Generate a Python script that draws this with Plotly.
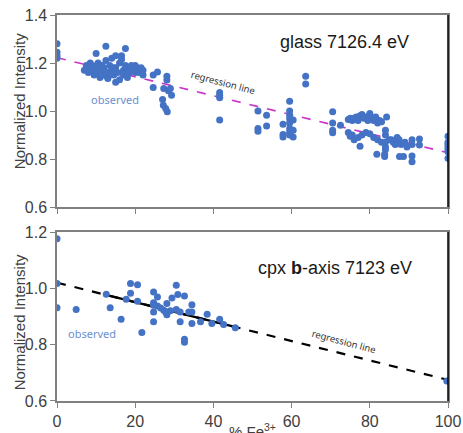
import plotly.graph_objects as go
from plotly.subplots import make_subplots

# ---------------- data: glass 7126.4 eV ----------------
glass_fe3 = [0, 0, 0, 0,
             7, 7.5, 8, 8, 8.5, 9, 9, 9.5, 10, 10, 10.2, 10.5, 11, 11, 11.5, 12, 12, 12.5, 12.5, 13,
             13, 13.5, 14, 14, 14.5, 15, 15, 15.5, 16, 16, 16.5, 17, 17, 17.5, 17.5, 18, 18, 18.5,
             19, 19, 19.5, 20, 20.5, 21, 21.5, 22, 22, 16.5, 15, 13, 9.5, 11.5, 14.5, 18.5, 20,
             24.6, 24.6, 25.7, 28.1, 28.1, 27.3, 28.5, 29.3, 29, 27, 27.2, 27.8, 28.2,
             41.6, 41.6, 41.6, 41.6,
             51.4, 51.4, 51.4, 53.6, 53.6,
             57.8, 57.8, 57.8, 59.5, 59.5, 59.5, 59.5, 59.5, 59.5, 59.5, 59.5, 60.4, 60.4, 60.4,
             63.6, 63.6,
             70.5, 70.5, 70.5, 70.5, 72.5,
             74.5, 75, 75.5, 76, 76.5, 77, 77.5, 78, 78.5, 79, 79.5, 80, 80.5, 81, 81.5, 82, 82.5, 83, 84.3,
             74.5, 75, 75.5, 76, 77, 78, 79, 80, 81, 82, 83, 84, 85,
             77.5, 81.8, 83.8, 83.8, 84, 84, 84, 84,
             85.5, 86, 86.5, 87, 87.5, 88, 89, 89.5, 87.6, 88.6,
             90.8, 90.8, 90.8, 90.8, 92.7, 92.7,
             100, 100, 100, 100, 100, 100, 100]
glass_int = [1.28, 1.245, 1.23, 1.22,
             1.17, 1.19, 1.16, 1.18, 1.20, 1.17, 1.19, 1.15, 1.24, 1.18, 1.16, 1.20, 1.17, 1.14, 1.19, 1.15, 1.18, 1.27, 1.21, 1.16,
             1.14, 1.19, 1.17, 1.22, 1.15, 1.12, 1.18, 1.16, 1.20, 1.13, 1.23, 1.17, 1.15, 1.26, 1.19, 1.18, 1.14, 1.16,
             1.19, 1.17, 1.18, 1.19, 1.18, 1.16, 1.18, 1.17, 1.15, 1.215, 1.23, 1.135, 1.18, 1.17, 1.18, 1.17, 1.16,
             1.098, 1.15, 1.163, 1.145, 1.129, 1.094, 1.084, 1.066, 1.094, 1.048, 1.024, 1.01, 0.997,
             1.077, 1.066, 1.055, 0.962,
             1.0, 0.927, 0.916, 0.982, 0.937,
             0.945, 0.902, 0.892, 1.041, 1.0, 0.982, 0.968, 0.95, 0.927, 0.913, 0.9, 0.962, 0.92, 0.892,
             1.145, 1.112,
             0.997, 0.95, 0.92, 0.909, 0.941,
             0.965, 0.97, 0.96, 0.97, 0.975, 0.96, 0.98, 0.985, 0.97, 0.975, 0.96, 0.99, 0.97, 0.96, 0.975, 0.95, 0.96, 0.955, 0.975,
             0.91, 0.895, 0.90, 0.88, 0.89, 0.90, 0.91, 0.905, 0.89, 0.88, 0.87, 0.90, 0.88,
             0.853, 0.82, 0.81, 0.82, 0.85, 0.92, 0.87, 0.84,
             0.88, 0.87, 0.86, 0.89, 0.88, 0.86, 0.87, 0.85, 0.81, 0.81,
             0.88, 0.86, 0.812, 0.789, 0.883, 0.858,
             0.895, 0.87, 0.86, 0.85, 0.84, 0.83, 0.803]
glass_fit_x = [0, 100]
glass_fit_y = [1.222, 0.826]

# ---------------- data: cpx b-axis 7123 eV ----------------
cpx_fe3 = [0, 0, 0, 4.9, 12.6, 13.6, 16.4, 17.7, 18.8, 18.8, 20.6, 20.6, 21.7,
           24.7, 24.7, 24.7, 24.7, 24.7, 25.7, 25.7, 27.3, 28.1, 28.1, 28.1, 29.4,
           30.5, 30.5, 30.9, 31.5, 31.5, 32.6, 32.6, 32.6, 33.7, 34.5, 34.5, 34.5,
           36.7, 38.4, 39.6, 41.6, 42.6, 45.6, 99.7, 26.5, 29.0, 27.8]
cpx_int = [1.176, 1.017, 0.931, 0.925, 0.979, 0.931, 0.89, 0.961, 1.017, 0.983, 1.013, 0.954, 0.843,
           0.987, 0.949, 0.94, 0.916, 0.881, 0.969, 0.937, 0.922, 0.946, 0.916, 0.906, 0.966,
           1.011, 0.925, 0.978, 0.916, 0.881, 0.973, 0.819, 0.809, 0.916, 0.942, 0.916, 0.875,
           0.881, 0.908, 0.875, 0.89, 0.872, 0.86, 0.671, 0.93, 0.92, 0.915]
cpx_fit_x = [0, 100]
cpx_fit_y = [1.02, 0.675]
cpx_fit_solid_x = [12.5, 46]

xticks = [0, 20, 40, 60, 80, 100]
glass_yticks = [0.6, 0.8, 1.0, 1.2, 1.4]
cpx_yticks = [0.6, 0.8, 1.0, 1.2]

def line_at(xs, xf, yf):
    slope = (yf[1] - yf[0]) / (xf[1] - xf[0])
    return [yf[0] + slope * (x - xf[0]) for x in xs]

BLUE = "#4472C4"
AXC = "#808080"
FONT = "Liberation Sans, Arial, sans-serif"

fig = make_subplots(rows=2, cols=1, vertical_spacing=0.065)
fig.update_layout(
    width=463, height=433,
    margin=dict(l=57, r=15, t=15, b=32),
    paper_bgcolor="white", plot_bgcolor="white",
    showlegend=False, hovermode=False,
    font=dict(family=FONT, size=16, color="#404040"),
    xaxis=dict(domain=[0, 1]), xaxis2=dict(domain=[0, 1]),
    yaxis=dict(domain=[0.5026, 1.0]), yaxis2=dict(domain=[0.0, 0.4378]),
)

# glass panel
fig.add_trace(go.Scatter(x=glass_fit_x, y=glass_fit_y, mode="lines",
                         line=dict(color="#CC33CC", width=1.6, dash="dash"),
                         hoverinfo="skip"), row=1, col=1)
fig.add_trace(go.Scatter(x=glass_fe3, y=glass_int, mode="markers",
                         marker=dict(color=BLUE, size=7)), row=1, col=1)

# cpx panel
fig.add_trace(go.Scatter(x=cpx_fit_x, y=cpx_fit_y, mode="lines",
                         line=dict(color="black", width=2.2, dash="dash"),
                         hoverinfo="skip"), row=2, col=1)
fig.add_trace(go.Scatter(x=cpx_fit_solid_x, y=line_at(cpx_fit_solid_x, cpx_fit_x, cpx_fit_y),
                         mode="lines", line=dict(color="black", width=2.2),
                         hoverinfo="skip"), row=2, col=1)
fig.add_trace(go.Scatter(x=cpx_fe3, y=cpx_int, mode="markers",
                         marker=dict(color=BLUE, size=7)), row=2, col=1)

axis_common = dict(showgrid=False, zeroline=False, showline=True, linecolor=AXC,
                   linewidth=1.5, mirror=True, ticks="outside", ticklen=5,
                   tickcolor=AXC, tickfont=dict(size=16, color="#404040"),
                   automargin=False, ticklabeloverflow="allow")

fig.update_xaxes(range=[0, 100], tickvals=xticks, **axis_common)
fig.update_xaxes(showticklabels=False, row=1, col=1)
fig.update_xaxes(ticktext=[str(v) for v in xticks], row=2, col=1)

fig.update_yaxes(range=[0.6, 1.4], tickvals=glass_yticks,
                 ticktext=[f"{v:.1f}" for v in glass_yticks], row=1, col=1, **axis_common)
fig.update_yaxes(range=[0.6, 1.2], tickvals=cpx_yticks,
                 ticktext=[f"{v:.1f}" for v in cpx_yticks], row=2, col=1, **axis_common)

# right border in black
for ax in ["x", "x2"]:
    yr = "y" if ax == "x" else "y2"
    fig.add_shape(type="line", xref=f"{ax} domain", yref=f"{yr} domain",
                  x0=1, x1=1, y0=0, y1=1, line=dict(color="black", width=1.5))

title_font = dict(size=15, color="#404040")
anns = [
    dict(x=-0.097, y=0.777, xref="paper", yref="paper", text="Normalized Intensity",
         textangle=-90, xanchor="center", yanchor="middle", font=title_font),
    dict(x=-0.097, y=0.204, xref="paper", yref="paper", text="Normalized Intensity",
         textangle=-90, xanchor="center", yanchor="middle", font=title_font),
    dict(x=73.6, y=1.2875, xref="x", yref="y", text="glass 7126.4 eV",
         font=dict(size=18, color="#1a1a1a")),
    dict(x=71.2, y=1.072, xref="x2", yref="y2", text="cpx <b>b</b>-axis 7123 eV",
         font=dict(size=18, color="#1a1a1a")),
    dict(x=42.4, y=1.117, xref="x", yref="y", text="regression line", textangle=15,
         font=dict(size=9.5, color="#333333", family="Noto Sans, sans-serif")),
    dict(x=73.3, y=0.812, xref="x2", yref="y2", text="regression line", textangle=15,
         font=dict(size=9.5, color="#333333", family="Noto Sans, sans-serif")),
    dict(x=14.9, y=1.046, xref="x", yref="y", text="observed",
         font=dict(size=11, color="#6A8FD0", family="Noto Sans, sans-serif")),
    dict(x=9.05, y=0.841, xref="x2", yref="y2", text="observed",
         font=dict(size=11, color="#6A8FD0", family="Noto Sans, sans-serif")),
    dict(x=0.5, y=-0.046, xref="paper", yref="paper", text="% Fe<sup>3+</sup>",
         xanchor="center", yanchor="top", font=title_font),
]
for a in anns:
    fig.add_annotation(showarrow=False, **a)

# remove the default page margin so the 463x433 figure fills the window exactly
fig.write_html("out.html", config={"displayModeBar": False},
               post_script="document.body.style.margin='0';document.documentElement.style.overflow='hidden';")
